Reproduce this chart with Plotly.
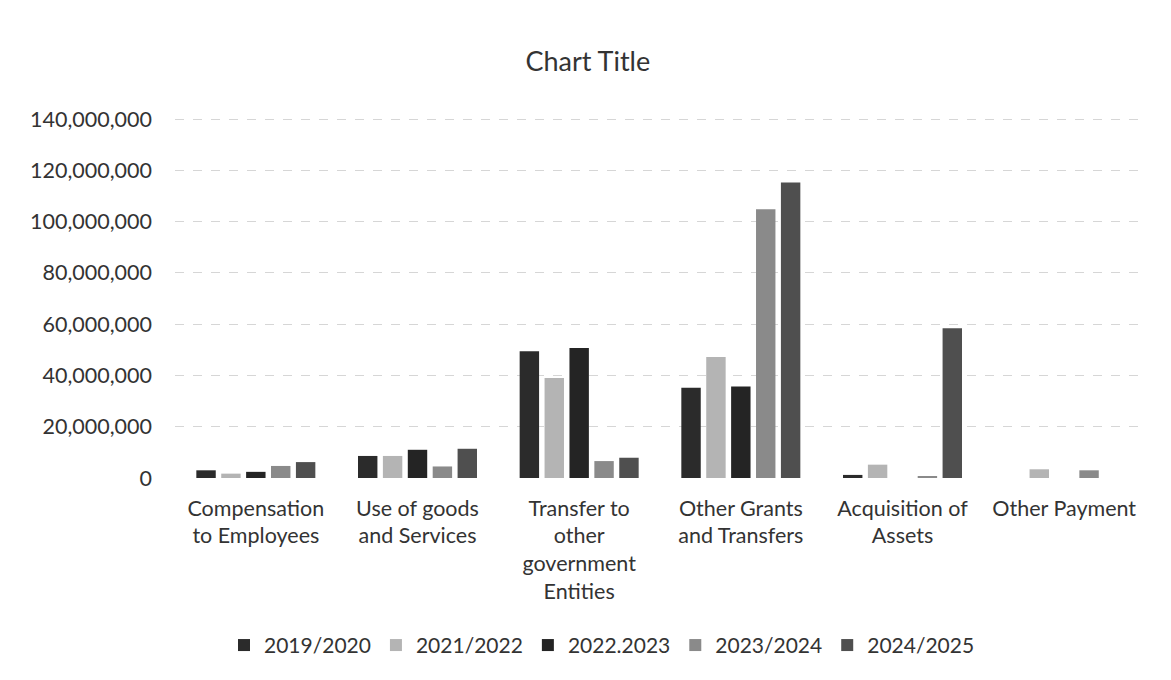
import plotly.graph_objects as go

categories = ["Compensation<br>to Employees", "Use of goods<br>and Services",
              "Transfer to<br>other<br>government<br>Entities", "Other Grants<br>and Transfers",
              "Acquisition of<br>Assets", "Other Payment"]
series_names = ["2019/2020", "2021/2022", "2022.2023", "2023/2024", "2024/2025"]
v2019_2020 = [3000000, 8600000, 49400000, 35200000, 1200000, 0]
v2021_2022 = [1700000, 8600000, 39000000, 47200000, 5200000, 3400000]
v2022_2023 = [2400000, 11000000, 50700000, 35700000, 0, 0]
v2023_2024 = [4700000, 4500000, 6600000, 104800000, 400000, 3000000]
v2024_2025 = [6200000, 11400000, 7900000, 115200000, 58400000, 0]
y_ticks = [0, 20000000, 40000000, 60000000, 80000000, 100000000, 120000000, 140000000]

series_values = [v2019_2020, v2021_2022, v2022_2023, v2023_2024, v2024_2025]
colors = ["#2b2b2b", "#b4b4b4", "#242424", "#8a8a8a", "#4f4f4f"]

font = "Lato, 'Open Sans', sans-serif"
fig = go.Figure()
for name, vals, c in zip(series_names, series_values, colors):
    fig.add_trace(go.Bar(name=name, x=categories, y=vals, marker=dict(color=c, line=dict(width=0))))

fig.update_layout(
    width=1171, height=680,
    barmode="group", bargap=0.23, bargroupgap=0.22,
    paper_bgcolor="white", plot_bgcolor="white",
    margin=dict(l=175, r=26, t=118, b=202, autoexpand=False),
    font=dict(family=font, color="#333333", size=20),
    title=dict(text="Chart Title", x=0.502, xanchor="center", y=1 - 62 / 680, yanchor="middle",
               font=dict(size=27, color="#333333", family=font)),
    legend=dict(orientation="h", x=(602 - 175) / 970, xanchor="center",
                y=-0.465, yanchor="middle",
                font=dict(size=21, color="#333333"), itemwidth=30, traceorder="normal"),
    xaxis=dict(showgrid=False, showline=False, ticks="", tickfont=dict(size=21.5), tickangle=0,
               ticklabelstandoff=15),
    yaxis=dict(range=[0, 140400000], tickvals=y_ticks, tickformat=",d",
               showgrid=True, gridcolor="#d6d6d6", griddash="dash", gridwidth=1,
               zeroline=False, showline=False, ticklabelstandoff=22, tickfont=dict(size=21.5)),
)
fig.write_html("out.html")
